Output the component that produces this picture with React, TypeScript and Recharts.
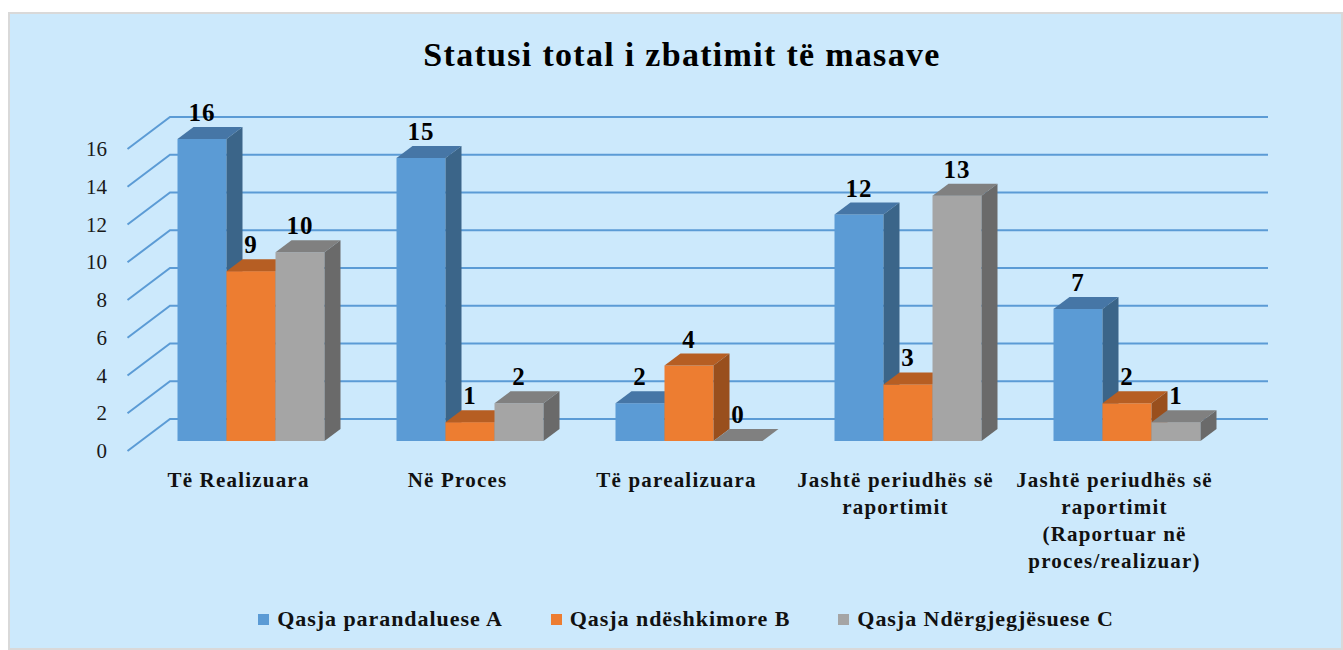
import React from 'react';
import { BarChart, Bar, XAxis, YAxis, CartesianGrid, Legend, LabelList } from 'recharts';

const categoryLines = [
  ['Të Realizuara'],
  ['Në Proces'],
  ['Të parealizuara'],
  ['Jashtë periudhës së', 'raportimit'],
  ['Jashtë periudhës së', 'raportimit', '(Raportuar në', 'proces/realizuar)'],
];
const categories = categoryLines.map((l) => l.join(' '));

const seriesNames = ['Qasja parandaluese A', 'Qasja ndëshkimore B', 'Qasja Ndërgjegjësuese C'];
const qasjaA = [16, 15, 2, 12, 7];
const qasjaB = [9, 1, 4, 3, 2];
const qasjaC = [10, 2, 0, 13, 1];
const yTicks = [0, 2, 4, 6, 8, 10, 12, 14, 16];

const data = categories.map((name, i) => ({ name, A: qasjaA[i], B: qasjaB[i], C: qasjaC[i] }));

// front / top / side shades for the 3d columns
const palette = [
  { front: '#5b9bd5', top: '#4676a6', side: '#3b6589' },
  { front: '#ed7d31', top: '#b65e23', side: '#994f1d' },
  { front: '#a5a5a5', top: '#808080', side: '#6a6a6a' },
];

const DX = 16;
const DY = 12;
const FONT = '"Liberation Serif", "Times New Roman", serif';

const makeShape = (c: { front: string; top: string; side: string }) => (props: any) => {
  const { x, y, width, height } = props;
  const h = Math.max(0, height || 0);
  return (
    <g>
      <rect x={x} y={y} width={width} height={h} fill={c.front} />
      <polygon
        points={`${x},${y} ${x + DX},${y - DY} ${x + width + DX},${y - DY} ${x + width},${y}`}
        fill={c.top}
      />
      <polygon
        points={`${x + width},${y} ${x + width + DX},${y - DY} ${x + width + DX},${y + h - DY} ${x + width},${y + h}`}
        fill={c.side}
      />
    </g>
  );
};

const gridLine = (props: any) => {
  const { x1, x2, y1, key } = props;
  return (
    <polyline
      key={key}
      points={`${x1 - 14},${y1 + 10} ${x1 + 28.5},${y1 - 22} ${x2 + 31.5},${y1 - 22}`}
      fill="none"
      stroke="#5b9bd5"
      strokeWidth={2}
    />
  );
};

const YTick = (props: any) => {
  const { y, payload } = props;
  return (
    <text x={107} y={y + 10} dy={7} textAnchor="end" fontFamily={FONT} fontSize={21} fill="#1a1a1a">
      {payload.value}
    </text>
  );
};

const XTick = (props: any) => {
  const { x, y, payload } = props;
  const lines = categoryLines[payload.index] || [payload.value];
  return (
    <text
      x={x - 12.5}
      y={y + 46}
      textAnchor="middle"
      fontFamily={FONT}
      fontSize={21}
      fontWeight="bold"
      letterSpacing={1.2}
      fill="#111"
    >
      {lines.map((l: string, i: number) => (
        <tspan key={i} x={x - 12.5} dy={i === 0 ? 0 : 27}>
          {l}
        </tspan>
      ))}
    </text>
  );
};

const valueLabel = (props: any) => {
  const { x, y, width, value } = props;
  return (
    <text
      x={x + width / 2}
      y={y - 18}
      textAnchor="middle"
      fontFamily={FONT}
      fontSize={25}
      fontWeight="bold"
      letterSpacing={1}
      fill="#000"
    >
      {value}
    </text>
  );
};

const LegendContent = () => (
  <div
    style={{
      display: 'flex',
      justifyContent: 'center',
      alignItems: 'center',
      paddingLeft: 29,
      fontFamily: FONT,
      fontWeight: 'bold',
      fontSize: 22,
      letterSpacing: 0.95,
      color: '#111',
      gap: 48,
    }}
  >
    {seriesNames.map((n, i) => (
      <div key={n} style={{ display: 'flex', alignItems: 'center' }}>
        <span style={{ width: 11, height: 11, background: palette[i].front, marginRight: 8, display: 'inline-block' }} />
        <span>{n}</span>
      </div>
    ))}
  </div>
);

export default function App() {
  return (
    <div style={{ position: 'relative', width: 1343, height: 650 }}>
      <style>{`body{margin:0;overflow:hidden}`}</style>
      <div
        style={{
          position: 'absolute',
          left: 8,
          top: 12,
          width: 1335,
          height: 638,
          background: '#cce9fc',
          border: '2px solid #d9d9d9',
          boxSizing: 'border-box',
        }}
      />
      <div
        style={{
          position: 'absolute',
          left: 0,
          top: 38,
          width: 1364,
          textAlign: 'center',
          fontFamily: FONT,
          fontWeight: 'bold',
          fontSize: 34,
          lineHeight: '34px',
          letterSpacing: 1.3,
          color: '#000',
        }}
      >
        Statusi total i zbatimit të masave
      </div>
      <div style={{ position: 'absolute', left: 0, top: 0 }}>
        <BarChart
          width={1343}
          height={650}
          data={data}
          barGap={0}
          barSize={49}
          margin={{ top: 139, right: 106.5, bottom: 149, left: 41.5 }}
        >
          <CartesianGrid vertical={false} horizontal={gridLine} />
          <XAxis dataKey="name" interval={0} axisLine={false} tickLine={false} tickSize={0} tickMargin={0} height={60} tick={XTick} />
          <YAxis
            domain={[0, 16]}
            ticks={yTicks}
            interval={0}
            axisLine={false}
            tickLine={false}
            width={100}
            tick={YTick}
          />
          <Legend
            layout="horizontal"
            verticalAlign="middle"
            align="center"
            content={LegendContent}
            wrapperStyle={{ top: 606, left: 0, width: 1343, height: 28 }}
          />
          <Bar dataKey="A" name={seriesNames[0]} fill={palette[0].front} shape={makeShape(palette[0])} isAnimationActive={false}>
            <LabelList dataKey="A" content={valueLabel} />
          </Bar>
          <Bar dataKey="B" name={seriesNames[1]} fill={palette[1].front} shape={makeShape(palette[1])} isAnimationActive={false}>
            <LabelList dataKey="B" content={valueLabel} />
          </Bar>
          <Bar dataKey="C" name={seriesNames[2]} fill={palette[2].front} shape={makeShape(palette[2])} isAnimationActive={false}>
            <LabelList dataKey="C" content={valueLabel} />
          </Bar>
        </BarChart>
      </div>
    </div>
  );
}
